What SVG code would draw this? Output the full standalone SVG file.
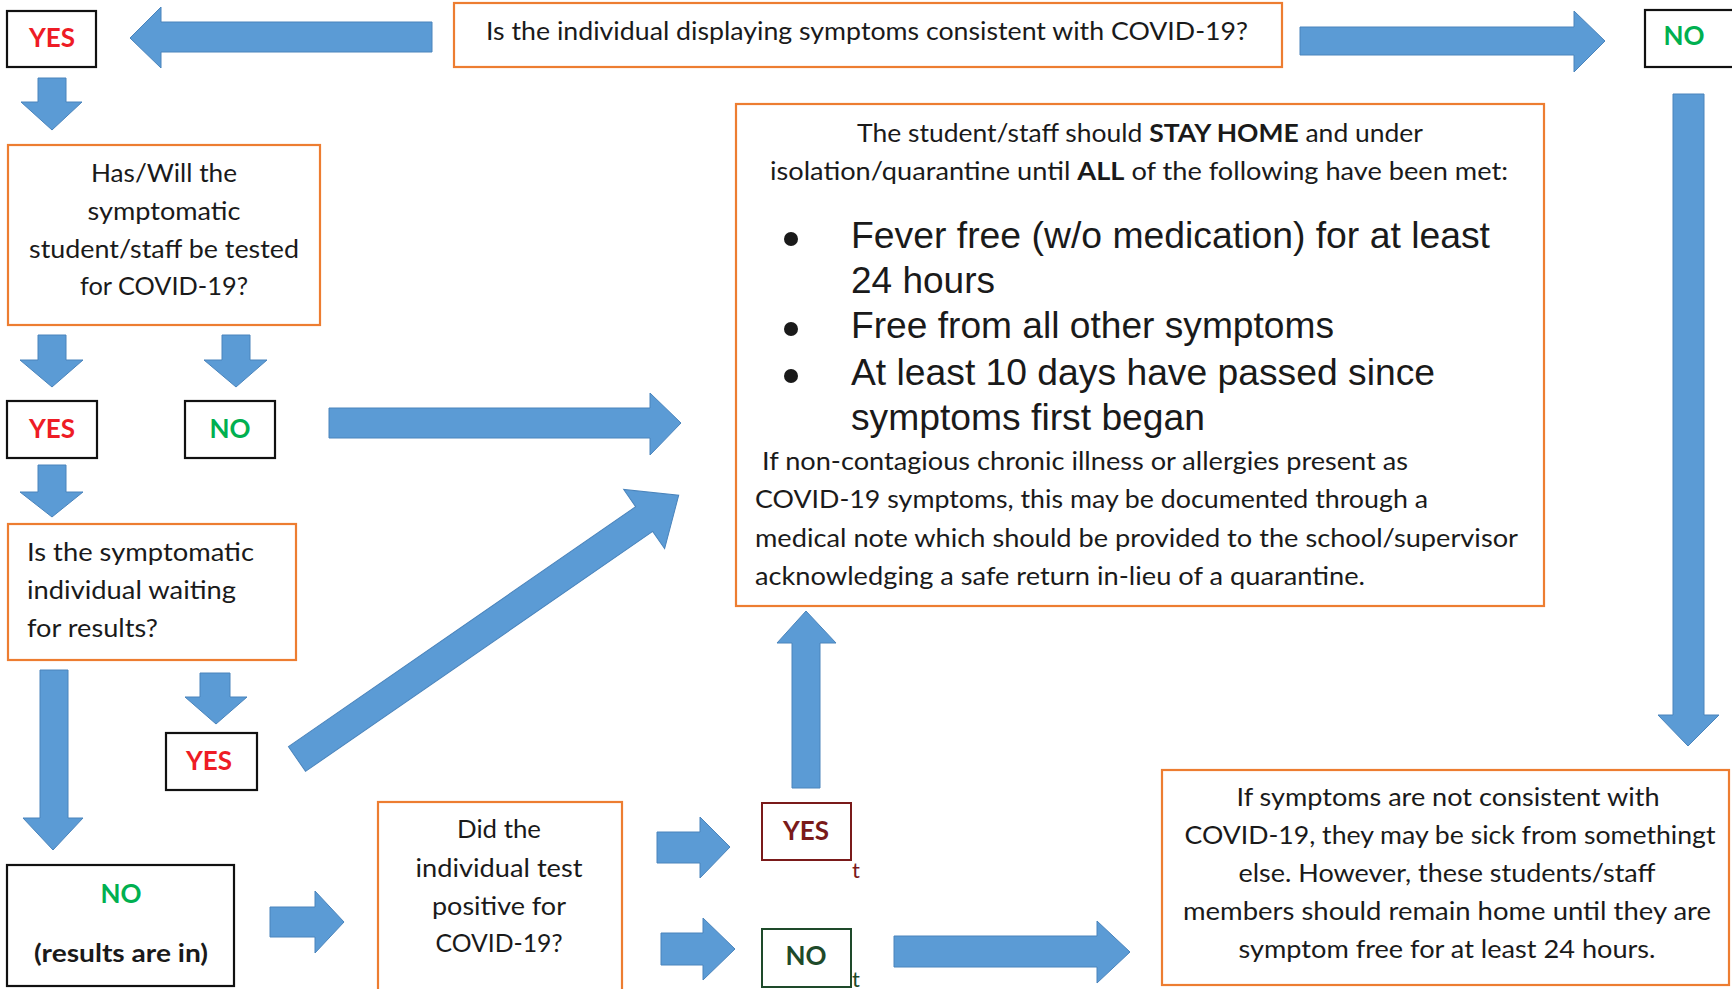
<svg xmlns="http://www.w3.org/2000/svg" width="1732" height="989" viewBox="0 0 1732 989">
<style>
.bg{fill:#ffffff}
.ob{fill:#ffffff;stroke:#ED7D31;stroke-width:2.2}
.kb{fill:#ffffff;stroke:#111111;stroke-width:2.2}
.rb{fill:#ffffff;stroke:#7A1A1A;stroke-width:2}
.gb{fill:#ffffff;stroke:#1E4A2A;stroke-width:2}
.ar{fill:#5B9BD5;stroke:#4A84BC;stroke-width:1}
.t{font-family:Lato,"Liberation Sans",sans-serif;font-size:25px;fill:#1a1a1a}
.tc{text-anchor:middle}
.b{font-weight:700}
.yes{font-family:Lato,"Liberation Sans",sans-serif;font-size:26px;font-weight:700;fill:#EE1C25;text-anchor:middle}
.no{font-family:Lato,"Liberation Sans",sans-serif;font-size:26px;font-weight:700;fill:#00B050;text-anchor:middle}
.ar2{font-family:"Liberation Sans",Arial,sans-serif;font-size:37px;fill:#1a1a1a}
</style>
<rect class="bg" x="0" y="0" width="1732" height="989"/>

<g id="connectors">
  <polygon class="ar" points="432,22 161,22 161,7 130,38 161,68 161,52 432,52"/>
  <polygon class="ar" points="1300,27 1574,27 1574,11 1605,41 1574,72 1574,55 1300,55"/>
  <polygon class="ar" points="1673,94 1704,94 1704,715 1719,715 1688,746 1658,715 1673,715"/>
  <polygon class="ar" points="38,78 66,78 66,102 82,102 52,130 21,102 38,102"/>
  <polygon class="ar" points="38,335 66,335 66,360 83,360 52,387 20,360 38,360"/>
  <polygon class="ar" points="222,335 250,335 250,360 267,360 236,387 204,360 222,360"/>
  <polygon class="ar" points="38,465 66,465 66,492 83,492 52,517 20,492 38,492"/>
  <polygon class="ar" points="40,670 68,670 68,818 83,818 53,850 23,818 40,818"/>
  <polygon class="ar" points="200,673 230,673 230,697 247,697 216,724 185,697 200,697"/>
  <polygon class="ar" points="329,408 650,408 650,393 681,423 650,455 650,438 329,438"/>
  <g transform="translate(297,759) rotate(-34.65)">
    <polygon class="ar" points="0,-15 422,-15 422,-36 464,0 422,36 422,15 0,15"/>
  </g>
  <polygon class="ar" points="270,907 315,907 315,891 344,922 315,953 315,937 270,937"/>
  <polygon class="ar" points="657,832 700,832 700,817 730,847 700,878 700,863 657,863"/>
  <polygon class="ar" points="661,933 703,933 703,918 735,949 703,980 703,965 661,965"/>
  <polygon class="ar" points="894,936 1097,936 1097,921 1130,952 1097,983 1097,967 894,967"/>
  <polygon class="ar" points="792,788 820,788 820,643 836,643 806,611 777,643 792,643"/>
</g>

<g id="q-symptoms">
  <rect class="ob" x="454" y="3" width="828" height="64"/>
  <text class="t tc" x="867" y="40" textLength="762" lengthAdjust="spacingAndGlyphs">Is the individual displaying symptoms consistent with COVID-19?</text>
</g>

<g id="yes-top">
  <rect class="kb" x="7" y="11" width="89" height="56"/>
  <text class="yes" x="52" y="47">YES</text>
</g>

<g id="no-top">
  <rect class="kb" x="1645" y="10" width="100" height="57"/>
  <text class="no" x="1684" y="45">NO</text>
</g>

<g id="q-tested">
  <rect class="ob" x="8" y="145" width="312" height="180"/>
  <text class="t tc" x="164" y="182" textLength="146" lengthAdjust="spacingAndGlyphs">Has/Will the</text>
  <text class="t tc" x="164" y="220" textLength="153" lengthAdjust="spacingAndGlyphs">symptomatic</text>
  <text class="t tc" x="164" y="258" textLength="270" lengthAdjust="spacingAndGlyphs">student/staff be tested</text>
  <text class="t tc" x="164" y="295" textLength="168" lengthAdjust="spacingAndGlyphs">for COVID-19?</text>
</g>

<g id="yes-tested">
  <rect class="kb" x="7" y="401" width="90" height="57"/>
  <text class="yes" x="52" y="438">YES</text>
</g>

<g id="no-tested">
  <rect class="kb" x="185" y="401" width="90" height="57"/>
  <text class="no" x="230" y="438">NO</text>
</g>

<g id="q-waiting">
  <rect class="ob" x="8" y="524" width="288" height="136"/>
  <text class="t" x="27" y="561" textLength="227" lengthAdjust="spacingAndGlyphs">Is the symptomatic</text>
  <text class="t" x="27" y="599" textLength="209" lengthAdjust="spacingAndGlyphs">individual waiting</text>
  <text class="t" x="27" y="637" textLength="131" lengthAdjust="spacingAndGlyphs">for results?</text>
</g>

<g id="yes-waiting">
  <rect class="kb" x="166" y="733" width="91" height="57"/>
  <text class="yes" x="209" y="770">YES</text>
</g>

<g id="no-results">
  <rect class="kb" x="7" y="865" width="227" height="121"/>
  <text class="no" x="121" y="903">NO</text>
  <text class="t tc b" x="121" y="962" textLength="174" lengthAdjust="spacingAndGlyphs">(results are in)</text>
</g>

<g id="q-positive">
  <rect class="ob" x="378" y="802" width="244" height="195"/>
  <text class="t tc" x="499" y="838" textLength="84" lengthAdjust="spacingAndGlyphs">Did the</text>
  <text class="t tc" x="499" y="877" textLength="167" lengthAdjust="spacingAndGlyphs">individual test</text>
  <text class="t tc" x="499" y="915" textLength="134" lengthAdjust="spacingAndGlyphs">positive for</text>
  <text class="t tc" x="499" y="952" textLength="127" lengthAdjust="spacingAndGlyphs">COVID-19?</text>
</g>

<g id="yes-positive">
  <rect class="rb" x="762" y="803" width="89" height="57"/>
  <text class="yes" x="806" y="840" style="fill:#7A1A1A">YES</text>
  <text class="t" x="852" y="878" style="fill:#7A1A1A;font-size:22px">t</text>
</g>

<g id="no-positive">
  <rect class="gb" x="762" y="929" width="89" height="58"/>
  <text class="no" x="806" y="965" style="fill:#1E4A2A">NO</text>
  <text class="t" x="852" y="987" style="fill:#1E4A2A;font-size:22px">t</text>
</g>

<g id="stay-home">
  <rect class="ob" x="736" y="104" width="808" height="502"/>
  <text class="t tc" x="1140" y="142" textLength="566" lengthAdjust="spacingAndGlyphs">The student/staff should <tspan class="b">STAY HOME</tspan> and under</text>
  <text class="t tc" x="1139" y="180" textLength="738" lengthAdjust="spacingAndGlyphs">isolation/quarantine until <tspan class="b">ALL</tspan> of the following have been met:</text>
  <circle cx="791" cy="239" r="7" fill="#1a1a1a"/>
  <circle cx="791" cy="329" r="7" fill="#1a1a1a"/>
  <circle cx="791" cy="376" r="7" fill="#1a1a1a"/>
  <text class="ar2" x="851" y="248" textLength="639" lengthAdjust="spacingAndGlyphs">Fever free (w/o medication) for at least</text>
  <text class="ar2" x="851" y="293" textLength="144" lengthAdjust="spacingAndGlyphs">24 hours</text>
  <text class="ar2" x="851" y="338" textLength="483" lengthAdjust="spacingAndGlyphs">Free from all other symptoms</text>
  <text class="ar2" x="851" y="385" textLength="584" lengthAdjust="spacingAndGlyphs">At least 10 days have passed since</text>
  <text class="ar2" x="851" y="430" textLength="354" lengthAdjust="spacingAndGlyphs">symptoms first began</text>
  <text class="t" x="762" y="470" textLength="646" lengthAdjust="spacingAndGlyphs">If non-contagious chronic illness or allergies present as</text>
  <text class="t" x="755" y="508" textLength="673" lengthAdjust="spacingAndGlyphs">COVID-19 symptoms, this may be documented through a</text>
  <text class="t" x="755" y="547" textLength="763" lengthAdjust="spacingAndGlyphs">medical note which should be provided to the school/supervisor</text>
  <text class="t" x="755" y="585" textLength="610" lengthAdjust="spacingAndGlyphs">acknowledging a safe return in-lieu of a quarantine.</text>
</g>

<g id="not-consistent">
  <rect class="ob" x="1162" y="770" width="567" height="215"/>
  <text class="t tc" x="1448" y="806" textLength="423" lengthAdjust="spacingAndGlyphs">If symptoms are not consistent with</text>
  <text class="t tc" x="1450" y="844" textLength="531" lengthAdjust="spacingAndGlyphs">COVID-19, they may be sick from somethingt</text>
  <text class="t tc" x="1447" y="882" textLength="417" lengthAdjust="spacingAndGlyphs">else. However, these students/staff</text>
  <text class="t tc" x="1447" y="920" textLength="528" lengthAdjust="spacingAndGlyphs">members should remain home until they are</text>
  <text class="t tc" x="1447" y="958" textLength="417" lengthAdjust="spacingAndGlyphs">symptom free for at least 24 hours.</text>
</g>
</svg>
